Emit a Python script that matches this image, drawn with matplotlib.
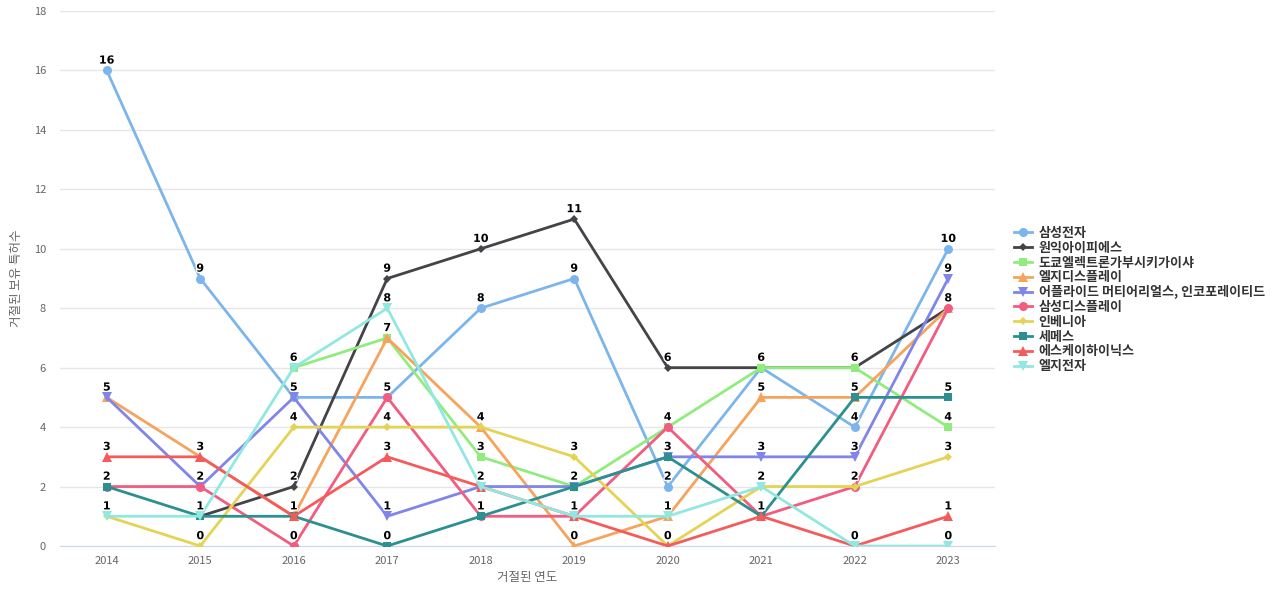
import matplotlib
matplotlib.use("Agg")
import matplotlib.pyplot as plt
import matplotlib.patheffects as pe
import numpy as np

plt.rcParams['font.family'] = ['Noto Sans CJK KR', 'DejaVu Sans']

years = ['2014', '2015', '2016', '2017', '2018', '2019', '2020', '2021', '2022', '2023']

samsung_elec = [16, 9, 5, 5, 8, 9, 2, 6, 4, 10]
wonik_ips = [None, 1, 2, 9, 10, 11, 6, 6, 6, 8]
tokyo_electron = [None, None, 6, 7, 3, 2, 4, 6, 6, 4]
lg_display = [5, 3, 1, 7, 4, 0, 1, 5, 5, 8]
applied_materials = [5, 2, 5, 1, 2, 2, 3, 3, 3, 9]
samsung_display = [2, 2, 0, 5, 1, 1, 4, 1, 2, 8]
invenia = [1, 0, 4, 4, 4, 3, 0, 2, 2, 3]
semes = [2, 1, 1, 0, 1, 2, 3, 1, 5, 5]
sk_hynix = [3, 3, 1, 3, 2, 1, 0, 1, 0, 1]
lg_elec = [1, 1, 6, 8, 2, 1, 1, 2, 0, 0]

series_names = ['삼성전자', '원익아이피에스', '도쿄엘렉트론가부시키가이샤', '엘지디스플레이',
                '어플라이드 머티어리얼스, 인코포레이티드', '삼성디스플레이', '인베니아', '세메스',
                '에스케이하이닉스', '엘지전자']
series_values = [samsung_elec, wonik_ips, tokyo_electron, lg_display, applied_materials,
                 samsung_display, invenia, semes, sk_hynix, lg_elec]
colors = ['#7cb5ec', '#434348', '#90ed7d', '#f7a35c', '#8085e9',
          '#f15c80', '#e4d354', '#2b908f', '#f45b5b', '#91e8e1']
markers = ['o', 'D', 's', '^', 'v', 'o', 'D', 's', '^', 'v']
msizes = [6.5, 4.5, 6, 6.5, 6.5, 6.5, 4.5, 6, 6.5, 6.5]

fig = plt.figure(figsize=(12.8, 6), dpi=100)
ax = fig.add_axes([60/1280, 54/600, 935/1280, 535/600])

x = np.arange(len(years))
handles = []
for name, vals, c, m, ms in zip(series_names, series_values, colors, markers, msizes):
    y = np.array([np.nan if v is None else v for v in vals], dtype=float)
    h, = ax.plot(x, y, color=c, lw=2, marker=m, markersize=ms, markeredgewidth=0,
                 label=name, zorder=3)
    handles.append(h)

# data labels: one per distinct value per year
for i in range(len(years)):
    seen = set()
    for vals in series_values:
        v = vals[i]
        if v is None or v in seen:
            continue
        seen.add(v)
        ax.annotate(str(v), (x[i], v), xytext=(0, 3.5), textcoords='offset points',
                    ha='center', va='bottom', fontsize=8, fontweight='bold', color='black',
                    family=['DejaVu Sans'],
                    path_effects=[pe.withStroke(linewidth=2, foreground='white')], zorder=5)

ax.set_xlim(-0.5, len(years) - 0.5)
ax.set_ylim(0, 18)
ax.set_yticks(range(0, 19, 2))
ax.set_xticks(x)
ax.set_xticklabels(years)
ax.grid(axis='y', color='#e6e6e6', lw=1)
ax.set_axisbelow(True)
for s in ['top', 'right', 'left']:
    ax.spines[s].set_visible(False)
ax.spines['bottom'].set_color('#ccd6eb')
ax.tick_params(axis='both', length=0, labelsize=8, labelcolor='#666666')
ax.tick_params(axis='y', pad=10)
ax.tick_params(axis='x', pad=7)
ax.set_xlabel('거절된 연도', fontsize=9, color='#666666', labelpad=4)
ax.set_ylabel('거절된 보유 특허수', fontsize=9, color='#666666', labelpad=8)

leg = fig.legend(handles=handles, loc='upper left', bbox_to_anchor=(1014/1280, 1 - 226/600),
                 frameon=False, fontsize=9.4, labelspacing=0.06, handlelength=1.4,
                 handletextpad=0.5, borderaxespad=0, borderpad=0)
for t in leg.get_texts():
    t.set_color('#333333')
    t.set_fontweight('bold')

fig.savefig('out.png', dpi=100)
